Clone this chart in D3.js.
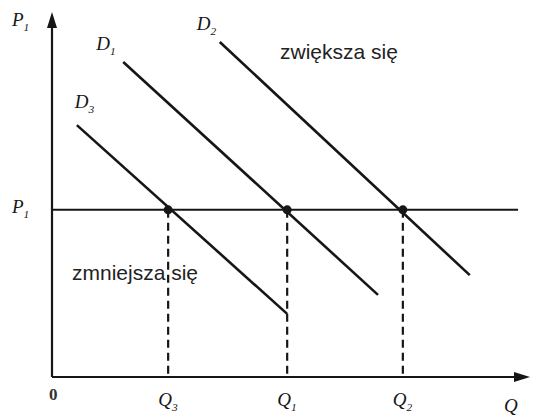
<!DOCTYPE html>
<html><head><meta charset="utf-8">
<script src="https://cdn.jsdelivr.net/npm/d3@7"></script>
<style>body{margin:0;background:#fff}</style>
</head><body>
<svg id="c" width="539" height="418"></svg>
<script>
// Data (abstract units 0..100)
const priceP1 = 45.8;
const qValues = [24.3, 49.2, 73.4];          // Q3, Q1, Q2
const qNames = [["Q","3"],["Q","1"],["Q","2"]];
const curveNames = [["D","3"],["D","1"],["D","2"]];
const curveStartX = [5.2, 14.9, 35.1];
const curveStartY = [69.0, 86.3, 91.8];
const curveEndX = [49.2, 68.2, 87.4];
const curveEndY = [17.3, 22.5, 27.9];
const annotations = ["zwiększa się", "zmniejsza się"];

const svg = d3.select("#c");
const x = d3.scaleLinear().domain([0,100]).range([52,530]);
const y = d3.scaleLinear().domain([0,100]).range([377,12]);
const ink = "#161616";

// axes
svg.append("line").attr("x1",x(0)).attr("y1",y(0)).attr("x2",x(0)).attr("y2",y(100)+10)
  .attr("stroke",ink).attr("stroke-width",2.2);
svg.append("line").attr("x1",x(0)).attr("y1",y(0)).attr("x2",x(100)-10).attr("y2",y(0))
  .attr("stroke",ink).attr("stroke-width",2.2);
svg.append("path").attr("d",`M${x(0)},${y(100)} L${x(0)-5},${y(100)+16} L${x(0)+5},${y(100)+16} Z`).attr("fill",ink);
svg.append("path").attr("d",`M${x(100)},${y(0)} L${x(100)-16},${y(0)-5} L${x(100)-16},${y(0)+5} Z`).attr("fill",ink);

// price line
svg.append("line").attr("x1",x(0)).attr("x2",x(97.5)).attr("y1",y(priceP1)).attr("y2",y(priceP1))
  .attr("stroke",ink).attr("stroke-width",2);

// dashed verticals
svg.selectAll("line.dash").data(qValues).join("line").attr("class","dash")
  .attr("x1",d=>x(d)).attr("x2",d=>x(d)).attr("y1",y(priceP1)).attr("y2",y(0))
  .attr("stroke",ink).attr("stroke-width",2.2).attr("stroke-dasharray","8,5");

// demand curves
svg.selectAll("line.curve").data(curveStartX).join("line").attr("class","curve")
  .attr("x1",(d,i)=>x(d)).attr("y1",(d,i)=>y(curveStartY[i]))
  .attr("x2",(d,i)=>x(curveEndX[i])).attr("y2",(d,i)=>y(curveEndY[i]))
  .attr("stroke",ink).attr("stroke-width",2.6);

// points
svg.selectAll("circle").data(qValues).join("circle")
  .attr("cx",d=>x(d)).attr("cy",y(priceP1)).attr("r",4.5).attr("fill",ink);

function subLabel(px,py,parts,size){
  const t = svg.append("text").attr("x",px).attr("y",py)
    .attr("font-family","'Liberation Serif','DejaVu Serif',serif").attr("font-style","italic")
    .attr("font-size",size).attr("fill",ink);
  t.append("tspan").text(parts[0]);
  t.append("tspan").attr("font-size",size*0.6).attr("dy",size*0.25).text(parts[1]);
  return t;
}

// axis labels
subLabel(12,26,["P","1"],19);
subLabel(12,213,["P","1"],19);
svg.append("text").attr("x",x(0)-3).attr("y",400).attr("font-family","'Liberation Serif',serif")
  .attr("font-size",17).attr("font-weight","bold").attr("fill","#333").text("0");
qValues.forEach((d,i)=>subLabel(x(d)-10,406,qNames[i],19));
subLabel(x(97.5)-14,412,["Q",""],19);

// curve labels (offsets relative to each curve's start)
const labelDx = [-2,-27,-23], labelDy = [-17,-12,-12];
curveStartX.forEach((d,i)=>subLabel(x(d)+labelDx[i],y(curveStartY[i])+labelDy[i],curveNames[i],19));

// annotations
svg.append("text").attr("x",280).attr("y",59).attr("font-family","Arial,'Liberation Sans',sans-serif")
  .attr("font-size",21).attr("fill","#222").text(annotations[0]);
svg.append("text").attr("x",72).attr("y",280).attr("font-family","Arial,'Liberation Sans',sans-serif")
  .attr("font-size",21).attr("fill","#222").text(annotations[1]);
</script>
</body></html>
